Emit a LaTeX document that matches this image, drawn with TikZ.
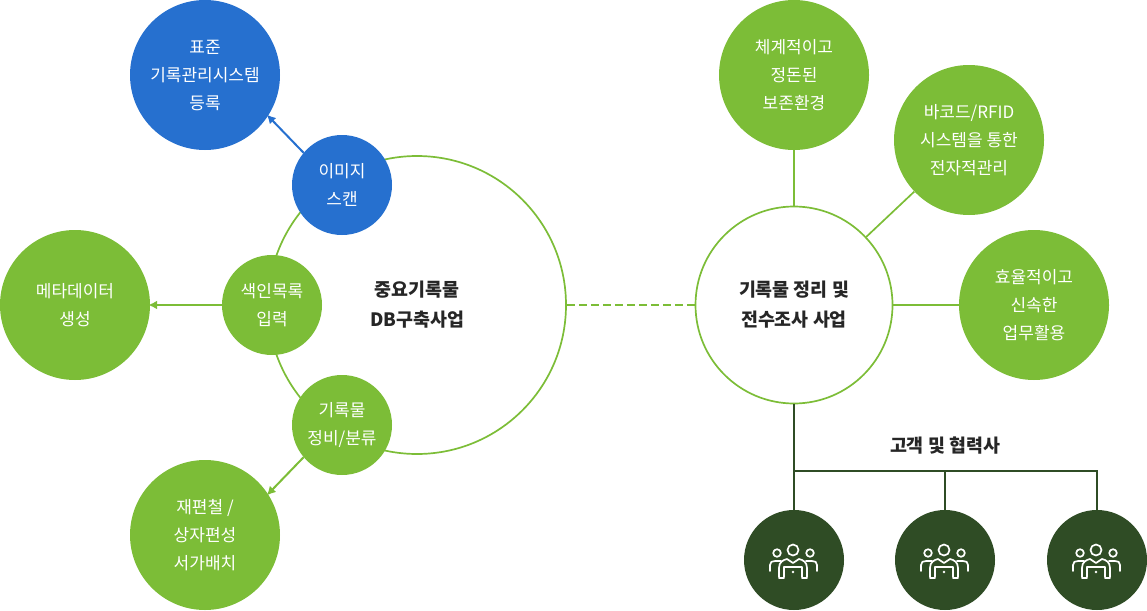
\documentclass[tikz,border=0pt]{standalone}
\usepackage{fontspec}
\setmainfont{Noto Sans CJK KR}
\usetikzlibrary{positioning, arrows.meta}
\definecolor{leafgreen}{HTML}{7CBD37}
\definecolor{pineblue}{HTML}{2670CF}
\definecolor{darkpine}{HTML}{2F4C25}
\tikzset{
  ringnode/.style={circle,draw=leafgreen,line width=1.7pt,fill=white,minimum size=#1,inner sep=0pt,align=center,
    font=\fontsize{18.4}{30}\selectfont\bfseries,text=black!85},
  ballnode/.style={circle,fill=#1,minimum size=150pt,inner sep=0pt,align=center,
    font=\fontsize{17}{28}\selectfont,text=white},
  smallnode/.style={ballnode=#1,minimum size=100pt},
  darknode/.style={circle,fill=darkpine,minimum size=100pt,inner sep=0pt},
  tip/.style={-{Latex[length=9pt,width=9pt]},shorten >=-2pt},
  people/.pic={
    \begin{scope}[draw=white,line width=1.7pt,line cap=round,line join=round]
      \draw (-1,-10) circle (5.5);
      \draw (-17,-7) circle (3.8);
      \draw (16,-7) circle (3.8);
      \draw (-24,11) -- (-24,5) .. controls (-24,2) and (-22,1) .. (-19,1) -- (-13,1);
      \draw (23,11) -- (23,5) .. controls (23,2) and (21,1) .. (18,1) -- (12,1);
      \draw (-15,17) -- (-15,8) .. controls (-15,2) and (-11,0) .. (-7,-1) -- (-1,3) -- (5,-1) .. controls (9,0) and (13,2) .. (13,8) -- (13,17);
      \draw (-10,17) -- (-10,7) -- (8,7) -- (8,17);
      \draw (-15,18) -- (-10,18);
      \draw (8,18) -- (13,18);
      \fill[white] (-1,12) circle (1.3);
    \end{scope}
  }
}
\begin{document}
\begin{tikzpicture}[x=1pt,y=-1pt,node distance=100pt,on grid]
    \useasboundingbox (0,0) rectangle (1147,610);

    % left group
    \node[ringnode=298pt] (dbhub) at (417,305) {중요기록물\\DB구축사업};
    \node[smallnode=pineblue] (scan) [above left=120pt and 75pt of dbhub] {이미지\\스캔};
    \node[smallnode=leafgreen] (index) [left=145pt of dbhub] {색인목록\\입력};
    \node[smallnode=leafgreen] (sort) [below left=120pt and 75pt of dbhub] {기록물\\정비/분류};
    \node[ballnode=pineblue] (regist) [above left=110pt and 137pt of scan] {표준\\기록관리시스템\\등록};
    \node[ballnode=leafgreen] (meta) [left=197pt of index] {메타데이터\\생성};
    \node[ballnode=leafgreen] (rebind) [below left=110pt and 137pt of sort] {재편철 /\\상자편성\\서가배치};

    % right group
    \node[ringnode=197pt] (survey) at (794,305) {기록물 정리 및\\전수조사 사업};
    \node[ballnode=leafgreen] (order) [above=230pt of survey] {체계적이고\\정돈된\\보존환경};
    \node[ballnode=leafgreen] (rfid) [above right=165pt and 175pt of survey] {바코드/RFID\\시스템을 통한\\전자적관리};
    \node[ballnode=leafgreen] (quick) [right=240pt of survey] {효율적이고\\신속한\\업무활용};
    \node[darknode] (client1) [below=255pt of survey] {};
    \node[darknode] (client2) [right=151pt of client1] {};
    \node[darknode] (client3) [right=303pt of client1] {};
    \node[font=\fontsize{18.4}{20}\selectfont\bfseries,text=black!85] (clients) [above=114pt of client2] {고객 및 협력사};
    \coordinate (branch) at (794,471);

    \pic at (client1) {people};
    \pic at (client2) {people};
    \pic at (client3) {people};

    \path[draw=leafgreen,line width=1.7pt]
      (order) edge (survey)
      (rfid) edge (survey)
      (quick) edge (survey)
      (dbhub) edge[dashed,dash pattern=on 8pt off 4pt] (survey);
    \draw[pineblue,line width=2pt,tip] (scan.140) -- (regist.-33);
    \draw[leafgreen,line width=2pt,tip] (index) -- (meta);
    \draw[leafgreen,line width=2pt,tip] (sort.220) -- (rebind.33);

    \draw[darkpine,line width=1.7pt] (survey) -- (client1);
    \draw[darkpine,line width=1.7pt] (branch) -| (client2);
    \draw[darkpine,line width=1.7pt] (branch) -| (client3);
\end{tikzpicture}
\end{document}
